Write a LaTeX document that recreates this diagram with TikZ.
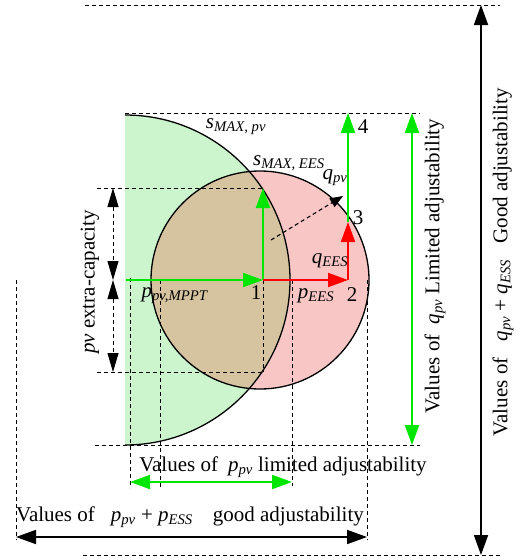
\documentclass[tikz,border=0pt]{standalone}
\usepackage{fontspec}
\setmainfont{Liberation Serif}
\usetikzlibrary{arrows.meta}
\definecolor{lgreen}{RGB}{205,245,205}
\definecolor{lpink}{RGB}{249,198,198}
\definecolor{ltan}{RGB}{214,196,160}
\definecolor{vgreen}{RGB}{0,230,0}
\newcommand\vsub[2]{\textit{#1}\textsubscript{\textit{#2}}}
\begin{document}
\begin{tikzpicture}[x=1pt,y=-1pt,
  font=\fontsize{21}{24}\selectfont,
  dsh/.style={line width=0.9pt, dash pattern=on 4pt off 3pt},
  bigtip/.style={-{Triangle[length=20pt,width=14pt]}},
  bothtip/.style={{Triangle[length=20pt,width=14pt]}-{Triangle[length=20pt,width=14pt]}},
  garr/.style={vgreen, line width=2pt, bigtip},
  rarr/.style={red, line width=2pt, bigtip},
  lbl/.style={inner sep=0pt}]
\useasboundingbox (0,0) rectangle (523,560);

% key points
\coordinate (O) at (125,280);
\coordinate (C) at (260,280);
\coordinate (P0) at (126,280);
\coordinate (P1) at (263,280);
\coordinate (P2) at (348,280);
\coordinate (P3) at (348,222);
\coordinate (P4) at (348,113);
\coordinate (P1u) at (263,188);

% fills
\begin{scope}
  \clip (125,0) rectangle (523,560);
  \fill[lgreen] (O) circle[radius=165];
\end{scope}
\fill[lpink] (C) circle[radius=109];
\begin{scope}
  \clip (125,0) rectangle (523,560);
  \clip (O) circle[radius=165];
  \fill[ltan] (C) circle[radius=109];
\end{scope}
\draw[line width=1.3pt] (C) circle[radius=109];
\draw[line width=1.3pt] (125,115) arc[start angle=-90,end angle=90,radius=165];

% dashed guide lines
\coordinate (t1) at (85,5);   \coordinate (t2) at (500,5);
\coordinate (a1) at (125,113); \coordinate (a2) at (420,113);
\coordinate (b1) at (97,188);
\coordinate (c1) at (97,372); \coordinate (c2) at (263,372);
\coordinate (d1) at (95,445); \coordinate (d2) at (420,445);
\coordinate (e1) at (83,555); \coordinate (e2) at (500,555);
\draw[dsh] (t1) -- (t2);
\draw[dsh] (a1) -- (a2);
\draw[dsh] (b1) -- (P1u);
\draw[dsh] (c1) -- (c2);
\draw[dsh] (d1) -- (d2);
\draw[dsh] (e1) -- (e2);
\draw[dsh] (P1) -- (c2);
\coordinate (v1a) at (130,278); \coordinate (v1b) at (130,488);
\coordinate (v2a) at (160,280); \coordinate (v2b) at (160,488);
\coordinate (v3a) at (292,280); \coordinate (v3b) at (292,486);
\coordinate (v4a) at (16,280);  \coordinate (v4b) at (16,540);
\coordinate (v5a) at (367,280); \coordinate (v5b) at (367,540);
\draw[dsh] (v1a) -- (v1b);
\draw[dsh] (v2a) -- (v2b);
\draw[dsh] (v3a) -- (v3b);
\draw[dsh] (v4a) -- (v4b);
\draw[dsh] (v5a) -- (v5b);

% vector arrows
\draw[garr] (P0) -- (P1);
\draw[garr] (P1) -- (P1u);
\draw[rarr] (P1) -- (P2);
\draw[rarr] (P2) -- (P3);
\draw[garr] (P3) -- (P4);
\coordinate (q1) at (271,240); \coordinate (q2) at (343,196);
\draw[dsh, line width=1.1pt, -{Triangle[length=13pt,width=10pt]}] (q1) -- (q2);

% left extra-capacity arrows
\coordinate (l1) at (113,188); \coordinate (l2) at (113,280); \coordinate (l3) at (113,372);
\draw[dsh, {Triangle[length=19pt,width=11pt]}-{Triangle[length=19pt,width=11pt]}] (l1) -- (l2);
\draw[dsh, {Triangle[length=19pt,width=11pt]}-{Triangle[length=19pt,width=11pt]}] (l2) -- (l3);

% range arrows
\coordinate (rg1) at (412,113); \coordinate (rg2) at (412,445);
\draw[vgreen, line width=2pt, bothtip] (rg1) -- (rg2);
\coordinate (rb1) at (481,5); \coordinate (rb2) at (481,555);
\draw[line width=1.8pt, bothtip] (rb1) -- (rb2);
\coordinate (bg1) at (130,482); \coordinate (bg2) at (292,482);
\draw[vgreen, line width=2pt, bothtip] (bg1) -- (bg2);
\coordinate (bb1) at (16,537); \coordinate (bb2) at (367,537);
\draw[line width=1.8pt, bothtip] (bb1) -- (bb2);

% labels
\node[lbl] (smpv) at (236,127) {\vsub{s}{MAX, pv}};
\node[lbl] (smees) at (289,163) {\vsub{s}{MAX, EES}};
\node[lbl] (qpv) at (335,178) {\vsub{q}{pv}};
\node[lbl] (qees) at (330,261) {\vsub{q}{EES}};
\node[lbl] (pees) at (316,296) {\vsub{p}{EES}};
\node[lbl] (ppv) at (175,296) {\vsub{p}{pv,MPPT}};
\node[lbl] (n1) at (256,293) {1};
\node[lbl] (n2) at (352,295) {2};
\node[lbl] (n3) at (358,218) {3};
\node[lbl] (n4) at (363,127) {4};

\node[lbl, rotate=90] (tq) at (435,266) {Values of\hspace{10pt}\vsub{q}{pv} Limited adjustability};
\node[lbl, rotate=90] (tqq) at (503,262) {Values of\hspace{16pt}\vsub{q}{pv} + \vsub{q}{ESS}\hspace{16pt}Good adjustability};
\node[lbl, rotate=90] (tpv) at (90,282) {\textit{pv} extra-capacity};
\node[lbl] (tp) at (283,467) {Values of\hspace{10pt}\vsub{p}{pv} limited adjustability};
\node[lbl] (tpp) at (190,517) {Values of\hspace{16pt}\vsub{p}{pv} + \vsub{p}{ESS}\hspace{20pt}good adjustability};
\end{tikzpicture}
\end{document}
